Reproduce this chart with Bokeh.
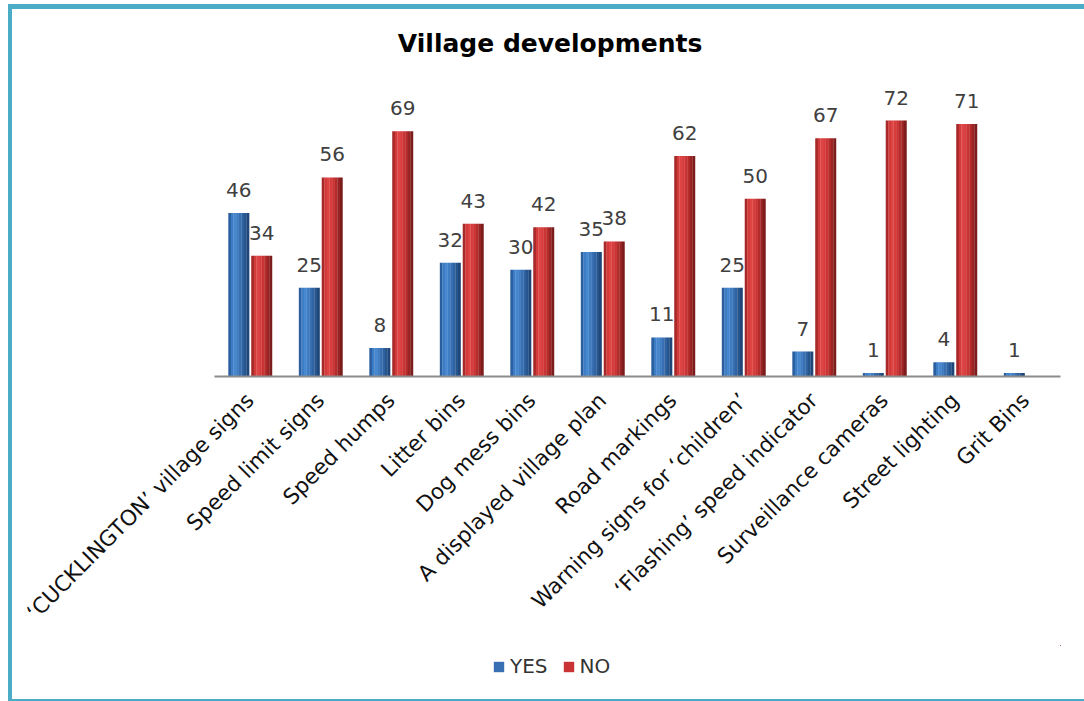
from bokeh.plotting import figure
from bokeh.layouts import column
from bokeh.models import ColumnDataSource, LabelSet, Label, Legend, LegendItem, FactorRange
from bokeh.transform import dodge
from bokeh.core.properties import value
from bokeh.embed import file_html
from bokeh.resources import INLINE

categories = [
    "\u2018CUCKLINGTON\u2019 village signs",
    "Speed limit signs",
    "Speed humps",
    "Litter bins",
    "Dog mess bins",
    "A displayed village plan",
    "Road markings",
    "Warning signs for \u2018children\u2019",
    "\u2018Flashing\u2019 speed indicator",
    "Surveillance cameras",
    "Street lighting",
    "Grit Bins",
]
yes_values = [46, 25, 8, 32, 30, 35, 11, 25, 7, 1, 4, 1]
no_values = [34, 56, 69, 43, 42, 38, 62, 50, 67, 72, 71, float("nan")]
series_names = ["YES", "NO"]
title_text = "Village developments"

def lbl(v):
    return "" if v != v else str(int(v))

src = ColumnDataSource(dict(
    cats=categories,
    yes=yes_values,
    no=no_values,
    yes_lbl=[lbl(v) for v in yes_values],
    no_lbl=[lbl(v) for v in no_values],
))

p = figure(
    x_range=FactorRange(*categories, range_padding=0),
    y_range=(0, 102.4),
    width=1072, height=636,
    output_backend="svg", toolbar_location=None,
    min_border_left=202, min_border_right=24,
    min_border_top=3, min_border_bottom=269,
)
p.outline_line_color = None
p.xgrid.visible = False
p.ygrid.visible = False
p.yaxis.visible = False
p.background_fill_color = "white"
p.border_fill_color = "white"

ax = p.xaxis[0]
ax.axis_line_color = "#8C8C8C"
ax.axis_line_width = 2
ax.major_tick_line_color = None
ax.minor_tick_line_color = None
ax.major_label_orientation = 0.785398
ax.major_label_text_font = "DejaVu Sans"
ax.major_label_text_font_size = "21.5px"
ax.major_label_text_color = "#111111"
ax.major_label_standoff = 14

bar_w = 0.295
offsets = {"yes": -0.155, "no": 0.17}
blue_shades = ["#2A5E9E", "#3C7DC6", "#4688D0", "#3F7DC3", "#3870B3", "#2F63A1", "#27558E", "#1F4678"]
red_shades = ["#A62828", "#D33A3A", "#DE4444", "#D83D3D", "#CB3434", "#B52C2C", "#9A2424", "#7C1C1C"]
N = len(blue_shades)
for key, shades in (("yes", blue_shades), ("no", red_shades)):
    for i, c in enumerate(shades):
        off = offsets[key] - bar_w / 2 + (i + 0.5) * bar_w / N
        p.vbar(x=dodge("cats", off, range=p.x_range), top=key, bottom=0,
               width=bar_w / N * 1.08, source=src, fill_color=c, line_color=None)

for key in ("yes", "no"):
    ls = LabelSet(x=dodge("cats", offsets[key], range=p.x_range), y=key, text=key + "_lbl",
                  source=src, text_align="center", text_baseline="bottom", y_offset=16,
                  text_font=value("DejaVu Sans"), text_font_size="20px", text_color="#404040")
    p.add_layout(ls)

p.add_layout(Label(x=4.76, y=93.7, text=title_text, text_align="center", text_baseline="middle",
                   text_font="DejaVu Sans", text_font_size="25px", text_font_style="bold",
                   text_color="#000000"))

# legend strip below the chart (its renderers have zero height and lie off its range)
lg = figure(width=1072, height=54, x_range=(-10, -9), y_range=(-10, -9),
            output_backend="svg", toolbar_location=None,
            x_axis_type=None, y_axis_type=None,
            min_border_left=0, min_border_right=0, min_border_top=0, min_border_bottom=0)
lg.outline_line_color = None
lg.xgrid.visible = False
lg.ygrid.visible = False
r_yes = lg.vbar(x="yes", top="yes", bottom="yes", width=0.01, source=src,
                fill_color="#3870B3", line_color=None)
r_no = lg.vbar(x="no", top="no", bottom="no", width=0.01, source=src,
               fill_color="#CB3434", line_color=None)
legend = Legend(items=[LegendItem(label=series_names[0], renderers=[r_yes]),
                       LegendItem(label=series_names[1], renderers=[r_no])],
                location=(278, 21), orientation="horizontal",
                glyph_width=13, glyph_height=13, label_standoff=5, spacing=14,
                padding=0, margin=0, border_line_color=None, background_fill_alpha=0,
                label_text_font="DejaVu Sans", label_text_font_size="20px",
                label_text_color="#333333")
lg.add_layout(legend, "center")

layout = column(p, lg, spacing=0)
layout.styles = {"margin-left": "8px", "margin-top": "4px",
                 "border-top": "5px solid #4BACC6", "border-left": "4px solid #4BACC6",
                 "border-bottom": "2px solid #4BACC6"}

open("out.html", "w").write(file_html(layout, INLINE))
